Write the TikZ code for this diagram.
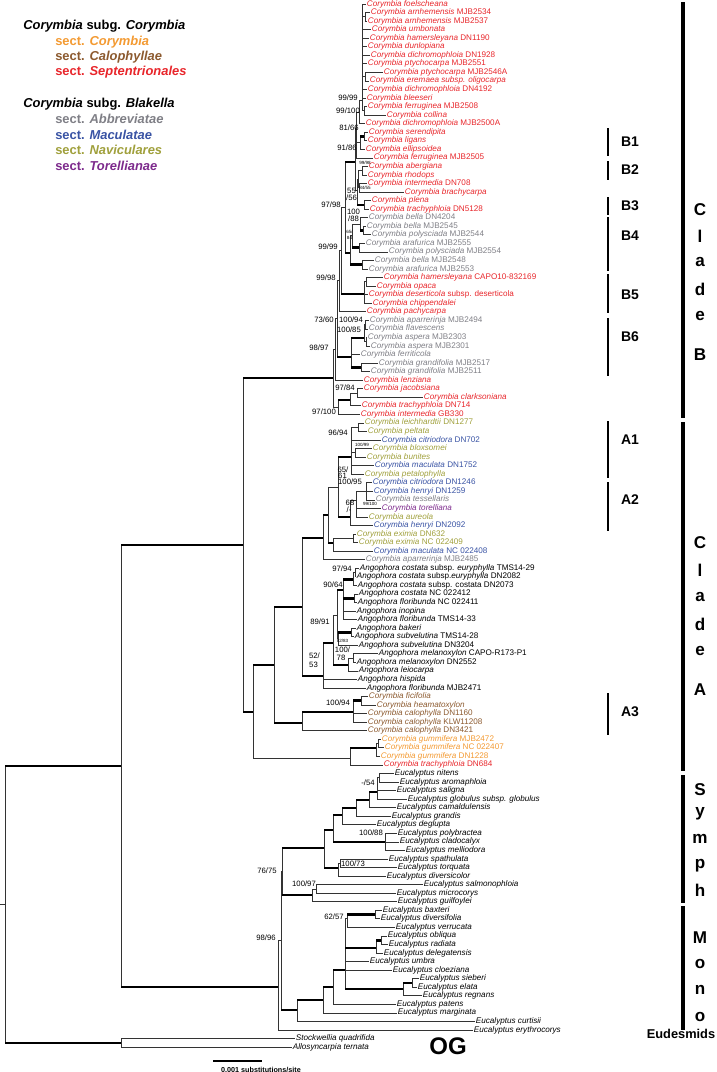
\documentclass[tikz,border=0pt]{standalone}
\usepackage{fontspec}
\setmainfont{Liberation Sans}
\usetikzlibrary{calc}
\definecolor{sept}{HTML}{E8262B}
\definecolor{abbr}{HTML}{7F7F86}
\definecolor{macu}{HTML}{3953A4}
\definecolor{navi}{HTML}{A0A03C}
\definecolor{tore}{HTML}{7D2A8C}
\definecolor{calo}{HTML}{8C5A2F}
\definecolor{cory}{HTML}{F39A32}
\newcommand{\cor}[1]{\textit{Corymbia #1}}
\newcommand{\ang}[1]{\textit{Angophora #1}}
\newcommand{\euc}[1]{\textit{Eucalyptus #1}}
\tikzset{
  tiplab/.style={anchor=west, inner sep=0.5pt, text height=4.2pt, text depth=1.2pt, font=\fontsize{6.1}{6.5}\selectfont},
  suplab/.style={inner sep=0pt, font=\fontsize{5.8}{6}\selectfont},
  smalllab/.style={inner sep=0pt, font=\fontsize{3.4}{4}\selectfont},
  brthin/.style={line width=0.6pt, black!80},
  brthick/.style={line width=2.1pt, black},
  cladebar/.style={line width=3pt},
  subbar/.style={line width=2pt},
  cladelet/.style={inner sep=0pt, font=\fontsize{12.8}{13}\selectfont\bfseries},
  sublet/.style={inner sep=0pt, font=\fontsize{10.5}{11}\selectfont\bfseries},
  legh/.style={anchor=west, inner sep=0pt, font=\fontsize{9.7}{10}\selectfont\bfseries},
}
% tip: name, row, x, colour, text
\newcommand{\tipnode}[5]{\node[tiplab,text=#4] (#1) at (#3,{4+(#2-1)*8.55}) {#5};}
\newcommand{\brs}[2]{\draw[brthin] (#1) |- (#2);}
\newcommand{\brk}[2]{\draw[brthin] (#1) -- (#1 |- #2); \draw[brthick] (#1 |- #2) -- (#2);}
\begin{document}
\begin{tikzpicture}[x=0.75pt,y=-0.75pt,declare function={rowy(\i)=4+(\i-1)*8.55;}]
\useasboundingbox (0,0) rectangle (717,1072);
% legend
\node[legh] (subgC) at (23,26) {\textit{Corymbia} subg. \textit{Corymbia}};
\node[legh,text=cory] (sCory) at (55,42) {sect. \textit{Corymbia}};
\node[legh,text=calo] (sCalo) at (55,57) {sect. \textit{Calophyllae}};
\node[legh,text=sept] (sSept) at (55,72) {sect. \textit{Septentrionales}};
\node[legh] (subgB) at (23,104) {\textit{Corymbia} subg. \textit{Blakella}};
\node[legh,text=abbr] (sAbbr) at (55,119) {sect. \textit{Abbreviatae}};
\node[legh,text=macu] (sMacu) at (55,135) {sect. \textit{Maculatae}};
\node[legh,text=navi] (sNavi) at (55,150) {sect. \textit{Naviculares}};
\node[legh,text=tore] (sTore) at (55,166) {sect. \textit{Torellianae}};
% tips, clade B
\tipnode{t1}{1}{366}{sept}{\cor{foelscheana}} \tipnode{t2}{2}{370}{sept}{\cor{arnhemensis} MJB2534}
\tipnode{t3}{3}{367}{sept}{\cor{arnhemensis} MJB2537} \tipnode{t4}{4}{371}{sept}{\cor{umbonata}}
\tipnode{t5}{5}{369}{sept}{\cor{hamersleyana} DN1190} \tipnode{t6}{6}{367}{sept}{\cor{dunlopiana}}
\tipnode{t7}{7}{370}{sept}{\cor{dichromophloia} DN1928} \tipnode{t8}{8}{367}{sept}{\cor{ptychocarpa} MJB2551}
\tipnode{t9}{9}{383}{sept}{\cor{ptychocarpa} MJB2546A} \tipnode{t10}{10}{369}{sept}{\cor{eremaea subsp. oligocarpa}}
\tipnode{t11}{11}{367}{sept}{\cor{dichromophloia} DN4192} \tipnode{t12}{12}{366}{sept}{\cor{bleeseri}}
\tipnode{t13}{13}{367}{sept}{\cor{ferruginea} MJB2508} \tipnode{t14}{14}{386}{sept}{\cor{collina}}
\tipnode{t15}{15}{365}{sept}{\cor{dichromophloia} MJB2500A} \tipnode{t16}{16}{368}{sept}{\cor{serendipita}}
\tipnode{t17}{17}{367}{sept}{\cor{ligans}} \tipnode{t18}{18}{365}{sept}{\cor{ellipsoidea}}
\tipnode{t19}{19}{373}{sept}{\cor{ferruginea} MJB2505} \tipnode{t20}{20}{368}{sept}{\cor{abergiana}}
\tipnode{t21}{21}{367}{sept}{\cor{rhodops}} \tipnode{t22}{22}{367}{sept}{\cor{intermedia} DN708}
\tipnode{t23}{23}{404}{sept}{\cor{brachycarpa}} \tipnode{t24}{24}{371}{sept}{\cor{plena}}
\tipnode{t25}{25}{369}{sept}{\cor{trachyphloia} DN5128} \tipnode{t26}{26}{368}{abbr}{\cor{bella} DN4204}
\tipnode{t27}{27}{366}{abbr}{\cor{bella} MJB2545} \tipnode{t28}{28}{371}{abbr}{\cor{polysciada} MJB2544}
\tipnode{t29}{29}{365}{abbr}{\cor{arafurica} MJB2555} \tipnode{t30}{30}{388}{abbr}{\cor{polysciada} MJB2554}
\tipnode{t31}{31}{374}{abbr}{\cor{bella} MJB2548} \tipnode{t32}{32}{368}{abbr}{\cor{arafurica} MJB2553}
\tipnode{t33}{33}{383}{sept}{\cor{hamersleyana} CAPO10-832169} \tipnode{t34}{34}{376}{sept}{\cor{opaca}}
\tipnode{t35}{35}{368}{sept}{\cor{deserticola} subsp. deserticola} \tipnode{t36}{36}{372}{sept}{\cor{chippendalei}}
\tipnode{t37}{37}{366}{sept}{\cor{pachycarpa}} \tipnode{t38}{38}{369}{abbr}{\cor{aparrerinja} MJB2494}
\tipnode{t39}{39}{368}{abbr}{\cor{flavescens}} \tipnode{t40}{40}{367}{abbr}{\cor{aspera} MJB2303}
\tipnode{t41}{41}{370}{abbr}{\cor{aspera} MJB2301} \tipnode{t42}{42}{360}{abbr}{\cor{ferriticola}}
\tipnode{t43}{43}{378}{abbr}{\cor{grandifolia} MJB2517} \tipnode{t44}{44}{370}{abbr}{\cor{grandifolia} MJB2511}
\tipnode{t45}{45}{363}{sept}{\cor{lenziana}} \tipnode{t46}{46}{363}{sept}{\cor{jacobsiana}}
\tipnode{t47}{47}{423}{sept}{\cor{clarksoniana}} \tipnode{t48}{48}{361}{sept}{\cor{trachyphloia} DN714}
\tipnode{t49}{49}{360}{sept}{\cor{intermedia} GB330}
% tips, clade A
\tipnode{t50}{50}{364}{navi}{\cor{leichhardtii} DN1277} \tipnode{t51}{51}{367}{navi}{\cor{peltata}}
\tipnode{t52}{52}{381}{macu}{\cor{citriodora} DN702} \tipnode{t53}{53}{372}{navi}{\cor{bloxsomei}}
\tipnode{t54}{54}{366}{navi}{\cor{bunites}} \tipnode{t55}{55}{374}{macu}{\cor{maculata} DN1752}
\tipnode{t56}{56}{364}{navi}{\cor{petalophylla}} \tipnode{t57}{57}{372}{macu}{\cor{citriodora} DN1246}
\tipnode{t58}{58}{373}{macu}{\cor{henryi} DN1259} \tipnode{t59}{59}{375}{abbr}{\cor{tessellaris}}
\tipnode{t60}{60}{381}{tore}{\cor{torelliana}} \tipnode{t61}{61}{368}{navi}{\cor{aureola}}
\tipnode{t62}{62}{373}{macu}{\cor{henryi} DN2092} \tipnode{t63}{63}{356}{navi}{\cor{eximia} DN632}
\tipnode{t64}{64}{358}{navi}{\cor{eximia} NC 022409} \tipnode{t65}{65}{373}{macu}{\cor{maculata} NC 022408}
\tipnode{t66}{66}{365}{abbr}{\cor{aparrerinja} MJB2485}
\tipnode{t67}{67}{359}{black}{\ang{costata} subsp. \textit{euryphylla} TMS14-29}
\tipnode{t68}{68}{356}{black}{\ang{costata} subsp.\textit{euryphylla} DN2082}
\tipnode{t69}{69}{357}{black}{\ang{costata} subsp. costata DN2073}
\tipnode{t70}{70}{358}{black}{\ang{costata} NC 022412} \tipnode{t71}{71}{357}{black}{\ang{floribunda} NC 022411}
\tipnode{t72}{72}{356}{black}{\ang{inopina}} \tipnode{t73}{73}{357}{black}{\ang{floribunda} TMS14-33}
\tipnode{t74}{74}{356}{black}{\ang{bakeri}} \tipnode{t75}{75}{354}{black}{\ang{subvelutina} TMS14-28}
\tipnode{t76}{76}{358}{black}{\ang{subvelutina} DN3204} \tipnode{t77}{77}{378}{black}{\ang{melanoxylon} CAPO-R173-P1}
\tipnode{t78}{78}{356}{black}{\ang{melanoxylon} DN2552} \tipnode{t79}{79}{358}{black}{\ang{leiocarpa}}
\tipnode{t80}{80}{357}{black}{\ang{hispida}} \tipnode{t81}{81}{366}{black}{\ang{floribunda} MJB2471}
\tipnode{t82}{82}{368}{calo}{\cor{ficifolia}} \tipnode{t83}{83}{376}{calo}{\cor{heamatoxylon}}
\tipnode{t84}{84}{367}{calo}{\cor{calophylla} DN1160} \tipnode{t85}{85}{367}{calo}{\cor{calophylla} KLW11208}
\tipnode{t86}{86}{367}{calo}{\cor{calophylla} DN3421} \tipnode{t87}{87}{381}{cory}{\cor{gummifera} MJB2472}
\tipnode{t88}{88}{384}{cory}{\cor{gummifera} NC 022407} \tipnode{t89}{89}{380}{cory}{\cor{gummifera} DN1228}
\tipnode{t90}{90}{383}{sept}{\cor{trachyphloia} DN684}
% tips, eucalypts and outgroup
\tipnode{t91}{91}{394}{black}{\euc{nitens}} \tipnode{t92}{92}{399}{black}{\euc{aromaphloia}}
\tipnode{t93}{93}{396}{black}{\euc{saligna}} \tipnode{t94}{94}{407}{black}{\euc{globulus subsp. globulus}}
\tipnode{t95}{95}{396}{black}{\euc{camaldulensis}} \tipnode{t96}{96}{391}{black}{\euc{grandis}}
\tipnode{t97}{97}{376}{black}{\euc{deglupta}} \tipnode{t98}{98}{397}{black}{\euc{polybractea}}
\tipnode{t99}{99}{399}{black}{\euc{cladocalyx}} \tipnode{t100}{100}{405}{black}{\euc{melliodora}}
\tipnode{t101}{101}{388}{black}{\euc{spathulata}} \tipnode{t102}{102}{397}{black}{\euc{torquata}}
\tipnode{t103}{103}{386}{black}{\euc{diversicolor}} \tipnode{t104}{104}{423}{black}{\euc{salmonophloia}}
\tipnode{t105}{105}{396}{black}{\euc{microcorys}} \tipnode{t106}{106}{397}{black}{\euc{guilfoylei}}
\tipnode{t107}{107}{382}{black}{\euc{baxteri}} \tipnode{t108}{108}{380}{black}{\euc{diversifolia}}
\tipnode{t109}{109}{395}{black}{\euc{verrucata}} \tipnode{t110}{110}{387}{black}{\euc{obliqua}}
\tipnode{t111}{111}{388}{black}{\euc{radiata}} \tipnode{t112}{112}{383}{black}{\euc{delegatensis}}
\tipnode{t113}{113}{369}{black}{\euc{umbra}} \tipnode{t114}{114}{392}{black}{\euc{cloeziana}}
\tipnode{t115}{115}{419}{black}{\euc{sieberi}} \tipnode{t116}{116}{417}{black}{\euc{elata}}
\tipnode{t117}{117}{422}{black}{\euc{regnans}} \tipnode{t118}{118}{396}{black}{\euc{patens}}
\tipnode{t119}{119}{397}{black}{\euc{marginata}} \tipnode{t120}{120}{475}{black}{\euc{curtisii}}
\tipnode{t121}{121}{473}{black}{\euc{erythrocorys}}
\tipnode{t122}{122}{295}{black}{\textit{Stockwellia quadrifida}} \tipnode{t123}{123}{292}{black}{\textit{Allosyncarpia ternata}}
% internal nodes, clade B
\coordinate (C1a) at (365,{rowy(2.5)}); \coordinate (C1b) at (365,{rowy(9.5)}); \coordinate (C1c) at (364,{rowy(13.5)});
\coordinate (C1) at (362,100); \coordinate (P1) at (359,112);
\coordinate (B1a) at (364,{rowy(16.5)}); \coordinate (B1) at (360,{rowy(17.2)}); \coordinate (G1) at (356,128);
\coordinate (B2) at (362,{rowy(20.5)}); \coordinate (Bib) at (359,{rowy(22.5)}); \coordinate (B2g) at (358,{rowy(21.5)});
\coordinate (B3) at (364,{rowy(24.5)}); \coordinate (G2) at (357,190); \coordinate (G) at (355,162);
\coordinate (B4p) at (363,{rowy(27.5)}); \coordinate (B4a1) at (360,{rowy(26.8)}); \coordinate (B4a2) at (359,{rowy(29.5)});
\coordinate (B4a) at (352,235); \coordinate (B4b) at (362,{rowy(31.5)}); \coordinate (B4) at (350,253);
\coordinate (A1) at (345,207); \coordinate (B5a) at (366,{rowy(33.5)}); \coordinate (B5) at (364,294);
\coordinate (A2) at (341,250); \coordinate (A3) at (339,280);
\coordinate (B6aa) at (365,{rowy(38.5)}); \coordinate (B6ab) at (366,{rowy(40.5)}); \coordinate (B6a) at (364,338);
\coordinate (B6b) at (361,{rowy(43.5)}); \coordinate (B6) at (351,357); \coordinate (A4) at (337,318);
\coordinate (A5) at (335,349); \coordinate (Jj) at (357,{rowy(46.5)}); \coordinate (J1) at (350,400);
\coordinate (J) at (338,407); \coordinate (CB) at (333,378);
% internal nodes, clade A and Angophora
\coordinate (Alp) at (358,{rowy(50.5)}); \coordinate (Abl) at (355,{rowy(53.5)}); \coordinate (ACt) at (351,457);
\coordinate (Ach) at (366,{rowy(58)}); \coordinate (Ab) at (356,500); \coordinate (ACb) at (350,517);
\coordinate (AC1) at (338,487); \coordinate (Aex1) at (353,{rowy(63.5)}); \coordinate (Aex) at (333,543);
\coordinate (AC2) at (328,515); \coordinate (AC3) at (323,538);
\coordinate (Ac1a) at (355,{rowy(67.5)}); \coordinate (Ac1) at (353,{rowy(68.3)}); \coordinate (Ac2) at (354,{rowy(70.5)});
\coordinate (Acost) at (343,590); \coordinate (Abk) at (351,{rowy(74.5)}); \coordinate (Asub) at (338,638);
\coordinate (Ang2) at (337,615); \coordinate (Am) at (353,{rowy(77.5)}); \coordinate (Amel) at (348,665);
\coordinate (Ang1) at (333,643); \coordinate (Ang) at (323,676); \coordinate (CAg) at (302,607);
\coordinate (Cfic) at (361,{rowy(82.5)}); \coordinate (Ccal1) at (353,712); \coordinate (Ccal) at (302,723);
\coordinate (CA3) at (274,665); \coordinate (Cg2) at (378,{rowy(87.5)}); \coordinate (Cg1) at (376,748);
\coordinate (Cgum) at (350,758); \coordinate (CA2) at (253,712); \coordinate (CA) at (243,545);
% internal nodes, eucalypts
\coordinate (S7) at (379,{rowy(91.5)}); \coordinate (S6) at (377,792); \coordinate (S5) at (369,800);
\coordinate (S4) at (356,808); \coordinate (S3) at (342,815); \coordinate (Spol) at (385,{rowy(99)});
\coordinate (S2) at (333,830); \coordinate (Spt) at (340,{rowy(101.5)}); \coordinate (SP) at (338,868);
\coordinate (S1) at (324,848); \coordinate (Ssm) at (316,{rowy(104.5)}); \coordinate (S97) at (312,895);
\coordinate (S0) at (282,871); \coordinate (Mbax) at (375,{rowy(107.5)}); \coordinate (M62) at (347,918);
\coordinate (Mor) at (381,{rowy(110.5)}); \coordinate (Mobl) at (376,948); \coordinate (Mse) at (412,{rowy(115.5)});
\coordinate (Msie) at (403,989); \coordinate (Mono) at (345,970); \coordinate (My) at (333,987);
\coordinate (Mx) at (323,1000); \coordinate (Mg) at (297,1010); \coordinate (E1) at (281,940);
\coordinate (E0) at (278,987); \coordinate (ING) at (121,766); \coordinate (OG) at (121,1043);
\coordinate (root) at (5,904); \coordinate (stem) at (0,904);
% thin branches
\foreach \p/\c in {C1a/t2,C1a/t3,C1b/t9,C1b/t10,C1c/t13,C1c/t14,C1/t1,C1/C1a,C1/t4,C1/t5,C1/t6,C1/t7,C1/t8,C1/C1b,
  C1/t11,C1/t12,C1/C1c,P1/C1,P1/t15,B1a/t16,B1a/t17,B1/t18,G1/P1,G1/B1,G1/t19,B2/t20,B2/t21,Bib/t22,Bib/t23,
  B2g/B2,B2g/Bib,B3/t24,B3/t25,G2/B2g,G/G1,G/G2,B4p/t27,B4p/t28,B4a1/t26,B4a2/t29,B4a2/t30,B4a/B4a1,B4b/t31,
  B4b/t32,B4/B4a,B5a/t33,B5a/t34,B5/B5a,B5/t35,B5/t36,A2/A1,A3/A2,A3/t37,B6aa/t38,B6aa/t39,B6ab/t40,B6ab/t41,
  B6a/B6aa,B6a/B6ab,B6/t42,B6b/t43,B6b/t44,A4/A3,A5/A4,A5/t45,Jj/t46,Jj/t47,J1/Jj,J1/t48,J/t49,CB/A5,CB/J,
  Alp/t50,Alp/t51,Abl/t53,Abl/t54,ACt/Alp,ACt/t52,ACt/Abl,ACt/t55,ACt/t56,Ach/t57,Ach/t58,Ach/t59,Ab/Ach,
  Ab/t60,Ab/t61,ACb/Ab,ACb/t62,Aex1/t63,Aex1/t64,Aex/Aex1,Aex/t65,AC2/AC1,AC3/t66,Ac1a/t67,Ac1a/t68,Ac1/Ac1a,
  Ac1/t69,Ac2/t70,Ac2/t71,Acost/t72,Acost/t73,Abk/t74,Abk/t75,Asub/t76,Ang2/Asub,Am/t77,Am/t78,Amel/Am,
  Amel/t79,Ang1/Ang2,Ang/t80,Ang/t81,Cfic/t82,Cfic/t83,Ccal1/t84,Ccal1/t85,Ccal/t86,Cg2/t87,Cg2/t88,Cg1/Cg2,
  Cg1/t89,Cgum/t90,CA2/Cgum,S7/t91,S7/t92,S6/S7,S6/t93,S6/t94,S5/t95,S4/t96,S3/t97,Spol/t98,Spol/t99,
  Spol/t100,Spt/t101,Spt/t102,SP/Spt,SP/t103,Ssm/t104,Ssm/t105,S97/Ssm,S97/t106,Mbax/t107,Mbax/t108,
  M62/t109,Mor/t110,Mor/t111,Mobl/t112,Mse/t115,Mse/t116,Msie/t117,Mono/M62,Mono/t113,Mono/t114,My/t118,
  Mx/t119,Mg/t120,E1/S0,E0/E1,E0/t121,OG/t122,OG/t123}
  \brs{\p}{\c};
% thick branches
\foreach \p/\c in {B1/B1a,G2/B3,A1/G,A1/B4,B4a1/B4p,B4a/B4a2,B4/B4b,A2/B5,B6/B6a,B6/B6b,A4/B6,J/J1,CA/CB,
  AC1/ACt,AC1/ACb,AC2/Aex,AC3/AC2,CAg/AC3,CAg/Ang,Acost/Ac1,Acost/Ac2,Asub/Abk,Ang2/Acost,Ang1/Amel,Ang/Ang1,
  Ccal1/Cfic,Ccal/Ccal1,CA3/CAg,CA3/Ccal,Cgum/Cg1,CA2/CA3,CA/CA2,S5/S6,S4/S5,S3/S4,S2/S3,S2/Spol,S1/S2,S1/SP,
  S0/S1,S0/S97,M62/Mbax,Mobl/Mor,Msie/Mse,Mono/Mobl,Mono/Msie,My/Mono,Mx/My,Mg/Mx,E1/Mg,ING/CA,ING/E0,
  root/ING,root/OG}
  \brk{\p}{\c};
\draw[brthin] (stem) -- (root);
% support values
\foreach \xx/\yy/\tt [count=\k] in {348/98/{99/99},348/111/{99/100},349/128/{81/66},347/148/{91/86},
  331/205/{97/98},328/247/{99/99},326/278/{99/98},324/320/{73/60},351/320/{100/94},349/330/{100/85},
  319/348/{98/97},345/388/{97/84},324/412/{97/100},338/433/{96/94},350/482/{100/95},342/569/{97/94},
  333/585/{90/64},320/622/{89/91},338/703/{100/94},368/783/{-/54},371/833/{100/88},353/863.5/{100/73},
  267/871/{76/75},304/884/{100/97},266/938/{98/96},334/917/{62/57},353.5/212/100,353.5/219/{/88},
  343/470/{65/},342.5/476/61,350/503/68,349/510/{/-},342.5/650/{100/},341/658/78,314.5/656/{52/},
  313.5/665/53,351.5/191/55,351.5/198/{/56}}
  \node[suplab] (sup\k) at (\xx,\yy) {\tt};
\foreach \xx/\yy/\tt [count=\k] in {365/163/{99/98},365/188/{84/55},349.5/232/{65/},349.5/238/84,
  362/444.5/{100/99},370/504/{99/100},342.5/641/{82/83}}
  \node[smalllab] (tiny\k) at (\xx,\yy) {\tt};
% clade bars
\foreach \ya/\yb [count=\k] in {2/418,422/771,775/903,906/1030}
  \draw[cladebar] (683,\ya) coordinate (bigtop\k) -- (683,\yb) coordinate (bigbot\k);
\foreach \ya/\yb/\tt/\yl [count=\k] in {128/156/B1/142,161/180/B2/170,197/215/B3/206,217/271/B4/236,
  274/313/B5/295,318/376/B6/337,421/478/A1/440,482/531/A2/500,693/735/A3/712}
  {\draw[subbar] (608,\ya) coordinate (subtop\k) -- (608,\yb) coordinate (subbot\k);
   \node[sublet] (sub\k) at (630,\yl) {\tt};}
\foreach \l/\yy [count=\k] in {C/210,l/236,a/262,d/289,e/316,B/355}
  \node[cladelet] (cladeB\k) at (700,\yy) {\l};
\foreach \l/\yy [count=\k] in {C/543,l/570,a/597,d/624,e/651,A/690}
  \node[cladelet] (cladeA\k) at (700,\yy) {\l};
\foreach \l/\yy [count=\k] in {S/790,y/814,m/839,p/866,h/890}
  \node[cladelet] (symph\k) at (700,\yy) {\l};
\foreach \l/\yy [count=\k] in {M/938,o/964,n/990,o/1017}
  \node[cladelet] (mono\k) at (700,\yy) {\l};
\node[inner sep=0pt, font=\fontsize{9.6}{10}\selectfont\bfseries] (eudes) at (681,1034) {Eudesmids};
\node[inner sep=0pt, font=\fontsize{18}{18}\selectfont\bfseries] (og) at (448,1046) {OG};
% scale bar
\coordinate (scA) at (213,1061); \coordinate (scB) at (262,1061);
\draw[line width=0.8pt] (scA) -- (scB);
\node[inner sep=0pt, font=\fontsize{5.4}{6}\selectfont\bfseries] (sclab) at (261,1070) {0.001 substitutions/site};
\end{tikzpicture}
\end{document}
